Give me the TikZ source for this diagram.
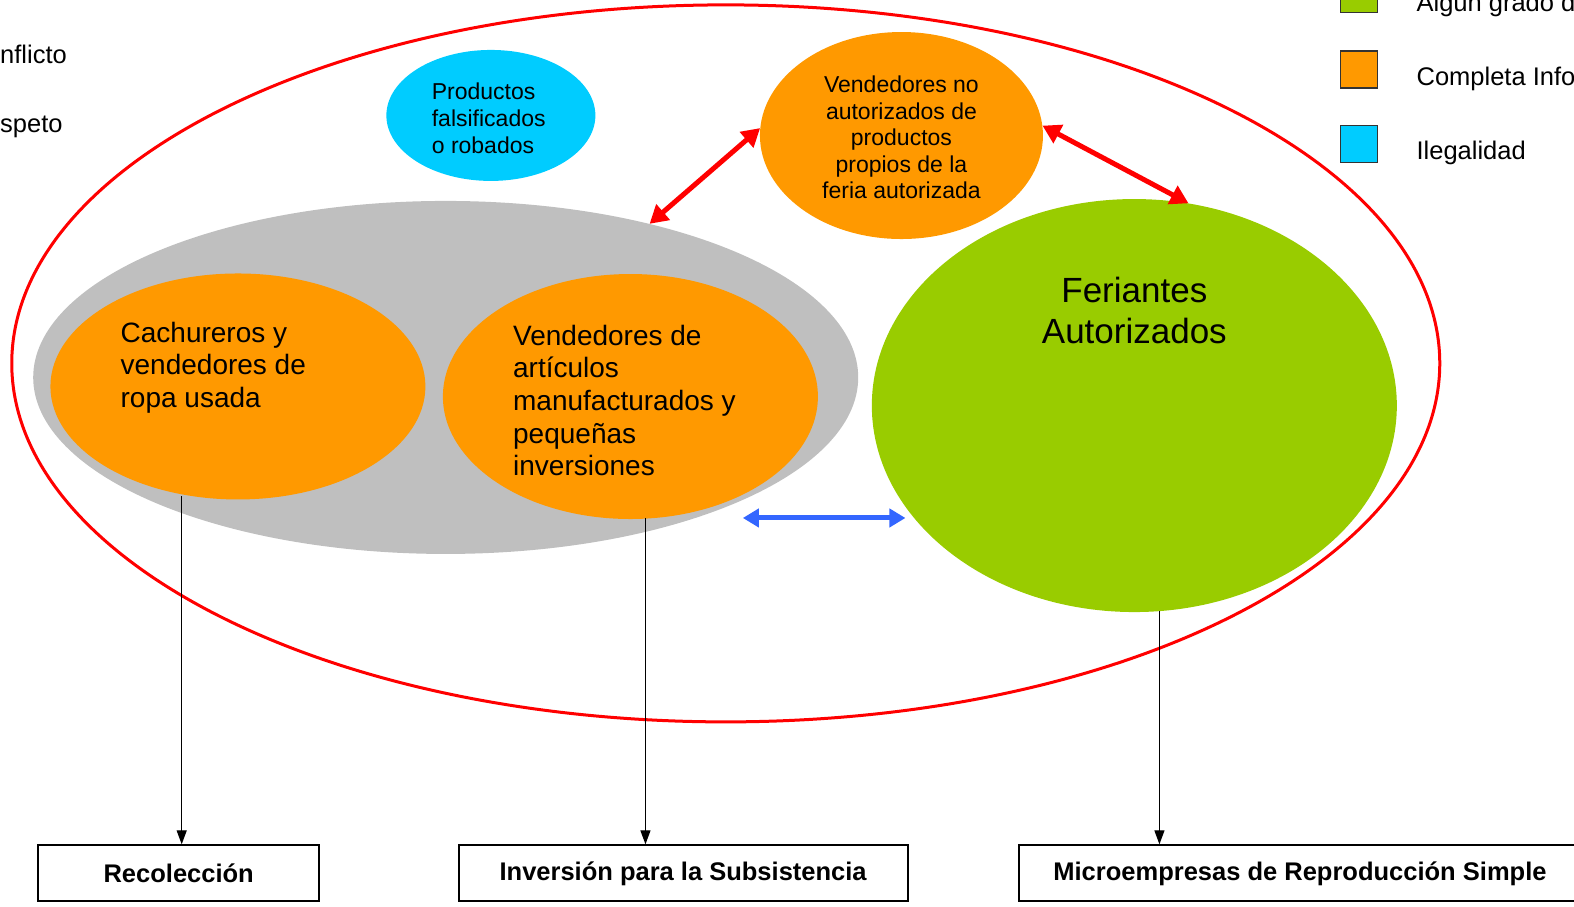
\documentclass[tikz,border=0pt]{standalone}
\usepackage{fontspec}
\setmainfont{Liberation Sans}
\usetikzlibrary{shapes.geometric,arrows.meta}
\definecolor{orng}{HTML}{FF9900}
\definecolor{grn}{HTML}{99CC00}
\definecolor{cyn}{HTML}{00CCFF}
\definecolor{gry}{HTML}{BFBFBF}
\definecolor{bluarr}{HTML}{3366FF}
\begin{document}
\begin{tikzpicture}[x=1.00383pt,y=-1.00383pt,
  blob/.style={ellipse, inner sep=0pt, draw=none},
  lbl/.style={inner sep=0pt, align=left},
  redarr/.style={draw=red, line width=5pt, {Triangle[length=18pt,width=20pt]}-{Triangle[length=18pt,width=20pt]}},
  bluearrow/.style={draw=bluarr, line width=5pt, {Triangle[length=16pt,width=18pt]}-{Triangle[length=16pt,width=18pt]}},
  blkarr/.style={draw=black, line width=1.3pt, -{Triangle[length=14pt,width=10pt]}},
  outbox/.style={draw=black, line width=2pt, minimum height=56pt, inner sep=0pt, font=\fontsize{25.5}{30}\selectfont\bfseries},
  legsq/.style={draw=black!80, line width=1.5pt, minimum width=37pt, minimum height=37pt, inner sep=0pt},
  legtxt/.style={inner sep=0pt, anchor=base west, font=\fontsize{25.5}{30}\selectfont}]
\useasboundingbox (0,0) rectangle (1568,902.55);
\clip (0,0) rectangle (1568,902.55);

% outer red ellipse
\node[blob, draw=red, line width=3pt, minimum width=1428pt, minimum height=717pt] (outer) at (723,362) {};

% gray ellipse and inner blobs
\node[blob, fill=gry, minimum width=825pt, minimum height=353pt] (gray) at (444,376) {};
\node[blob, fill=orng, minimum width=375pt, minimum height=226pt] (cach) at (237,385) {};
\node[blob, fill=orng, minimum width=375pt, minimum height=245pt] (vart) at (628,395) {};
\node[blob, fill=cyn, minimum width=209pt, minimum height=131pt] (prod) at (489,115) {};
\node[blob, fill=orng, minimum width=283pt, minimum height=207pt] (vend) at (898,135) {};
\node[blob, fill=grn, minimum width=525pt, minimum height=413pt] (feri) at (1130,404) {};

% texts
\node[lbl, anchor=west, font=\fontsize{28}{32.6}\selectfont] (tcach) at (120,366) {Cachureros y\\vendedores de\\ropa usada};
\node[lbl, anchor=west, font=\fontsize{28}{32.6}\selectfont] (tvart) at (511,399) {Vendedores de\\artículos\\manufacturados y\\pequeñas\\inversiones};
\node[inner sep=0pt, align=center, font=\fontsize{35}{41}\selectfont] (tferi) at (1130,309) {Feriantes\\Autorizados};
\node[inner sep=0pt, align=center, font=\fontsize{23}{26.6}\selectfont] (tvend) at (898,137) {Vendedores no\\autorizados de\\productos\\propios de la\\feria autorizada};
\node[lbl, anchor=west, font=\fontsize{23}{27}\selectfont] (tprod) at (430,118) {Productos\\falsificados\\o robados};

% arrows between blobs
\draw[redarr] (vend.177) -- (gray.37);
\draw[redarr] (vend.4) -- (feri.75);
\coordinate (b1) at (740,516);
\coordinate (b2) at (902,516);
\draw[bluearrow] (b1) -- (b2);

% bottom boxes
\node[outbox, minimum width=281pt] (rec) at (178,870) {Recolección};
\node[outbox, minimum width=449pt] (inv) at (680.5,870) {Inversión para la Subsistencia};
\node[outbox, minimum width=562pt] (mic) at (1295,870) {Microempresas de Reproducción Simple};

\coordinate (s1) at (181,494);
\coordinate (s2) at (643,516);
\coordinate (s3) at (1155,609);
\draw[blkarr] (s1) -- (s1 |- rec.north);
\draw[blkarr] (s2) -- (s2 |- inv.north);
\draw[blkarr] (s3) -- (s3 |- mic.north);

% legend
\node[legsq, fill=grn] (lg1) at (1354,-6) {};
\node[legsq, fill=orng] (lg2) at (1354,69) {};
\node[legsq, fill=cyn] (lg3) at (1354,143.5) {};
\node[legtxt] (lt1) at (1411,11) {Algún grado d};
\node[legtxt] (lt2) at (1411,85) {Completa Info};
\node[legtxt] (lt3) at (1411,159) {Ilegalidad};

% left cut texts
\node[legtxt] (lt4) at (0,63) {nflicto};
\node[legtxt] (lt5) at (0,132) {speto};
\end{tikzpicture}
\end{document}
